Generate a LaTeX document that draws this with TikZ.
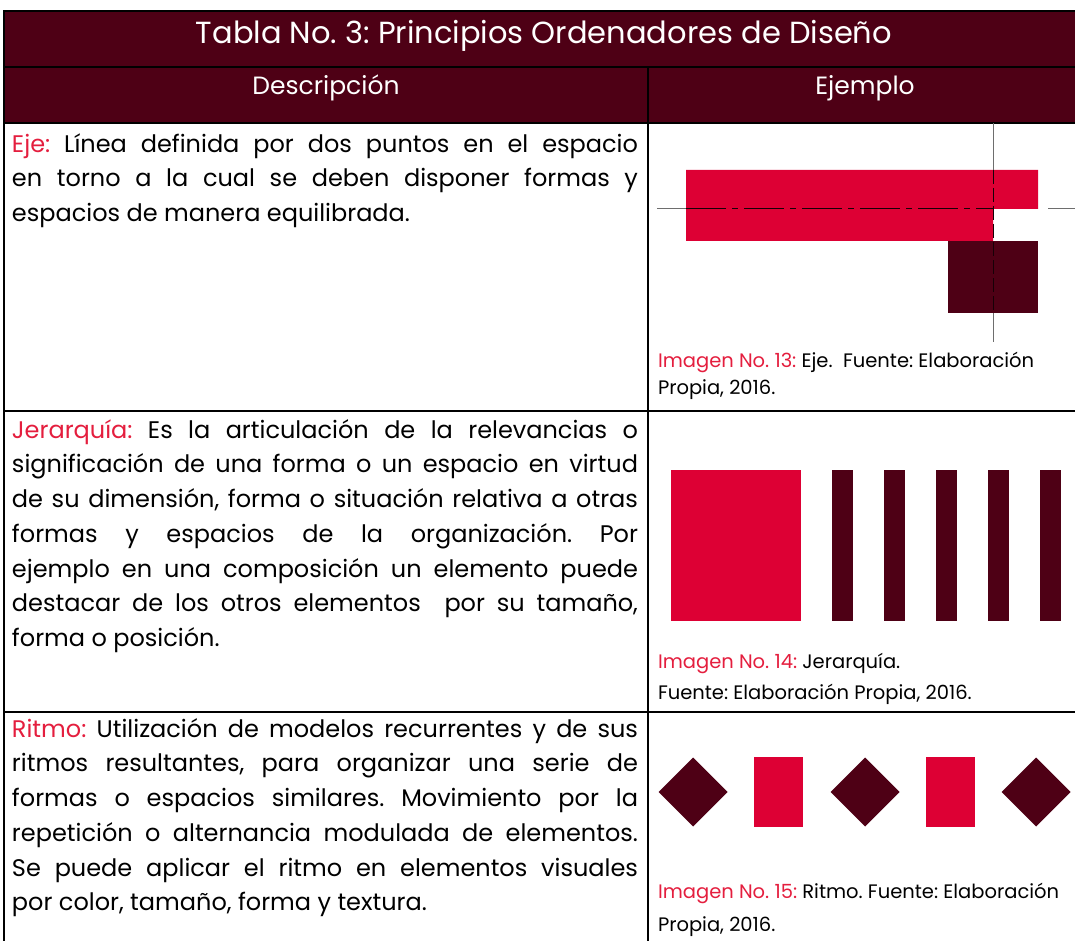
\documentclass[tikz,border=0pt]{standalone}
\usepackage{fontspec}
\setmainfont{Poppins}
\definecolor{vino}{RGB}{78,0,21}
\definecolor{rojo}{RGB}{221,0,52}
\definecolor{rojotexto}{RGB}{228,30,62}
\definecolor{gris}{RGB}{110,110,110}

\begin{document}
\frenchspacing
\begin{tikzpicture}[
	x=1pt,
	y=-1pt,
	every node/.style={inner sep=0pt, outer sep=0pt},
	borde/.style={draw=black, line width=2pt},
	titulo/.style={anchor=base, text=white, font=\fontsize{30.5}{36}\selectfont},
	encabezado/.style={anchor=base, text=white, font=\fontsize{25}{30}\selectfont},
	cuerpo/.style={
		anchor=north west,
		text width=626pt,
		align=justify,
		font=\fontsize{24}{34.7}\selectfont
	},
	pie/.style={anchor=base west, font=\fontsize{19.5}{24}\selectfont},
	forma roja/.style={fill=rojo},
	forma vino/.style={fill=vino},
	eje/.style={draw=gris, line width=1pt},
	eje oculto/.style={draw=black!70!vino, line width=1pt}
]

\useasboundingbox (0,0) rectangle (1075,941);

\fill[vino] (4,11) rectangle (1075,123);
\draw[borde] (1075,11) -- (4,11) -- (4,941);
\draw[borde] (4,67) -- (1075,67);
\draw[borde] (4,123) -- (1075,123);
\draw[borde] (4,411) -- (1075,411);
\draw[borde] (4,712) -- (1075,712);
\draw[borde] (648,67) -- (648,941);

\node[titulo] (titulo) at (544,44) {Tabla No. 3: Principios Ordenadores de Diseño};
\node[encabezado] (descripcion) at (326,95) {Descripción};
\node[encabezado] (ejemplo) at (865,95) {Ejemplo};

\node[cuerpo] (txteje) at (12,128) {\strut\textcolor{rojotexto}{Eje:} Línea definida por dos puntos en el espacio\linebreak
	en torno a la cual se deben disponer formas y\linebreak
	espacios de manera equilibrada.};
\node[cuerpo] (txtjerarquia) at (12,414) {\strut\textcolor{rojotexto}{Jerarquía:} Es la articulación de la relevancias o\linebreak
	significación de una forma o un espacio en virtud\linebreak
	de su dimensión, forma o situación relativa a otras\linebreak
	formas y espacios de la organización. Por\linebreak
	ejemplo en una composición un elemento puede\linebreak
	destacar de los otros elementos\ \ por su tamaño,\linebreak
	forma o posición.};
\node[cuerpo] (txtritmo) at (12,713) {\strut\textcolor{rojotexto}{Ritmo:} Utilización de modelos recurrentes y de sus\linebreak
	ritmos resultantes, para organizar una serie de\linebreak
	formas o espacios similares. Movimiento por la\linebreak
	repetición o alternancia modulada de elementos.\linebreak
	Se puede aplicar el ritmo en elementos visuales\linebreak
	por color, tamaño, forma y textura.};

\fill[forma roja] (686,170) -- (1038,170) -- (1038,209) -- (993,209) -- (993,241) -- (686,241) -- cycle;
\fill[forma vino] (948,241) rectangle (1038,313);
\draw[eje] (993,123) -- (993,170);
\draw[eje oculto, dash pattern=on 14pt off 4pt] (993,170) -- (993,313);
\draw[eje] (993,313) -- (993,342);
\draw[eje] (657,209) -- (686,209);
\draw[eje oculto, dash pattern=on 40pt off 6pt on 6pt off 6pt] (686,209) -- (993,209);
\draw[eje] (1048,209) -- (1075,209);
\node[pie] (pieeje) at (658,367) {\textcolor{rojotexto}{Imagen No. 13:} Eje.\ \ Fuente: Elaboración};
\node[pie] (pieeje2) at (658,394) {Propia, 2016.};

\fill[forma roja] (671,470) rectangle (801,621);
\foreach \x in {832,884,936,988,1040}
	\fill[forma vino] (\x,470) rectangle ++(21,151);
\node[pie] (piejerarquia) at (658,668) {\textcolor{rojotexto}{Imagen No. 14:} Jerarquía.};
\node[pie] (piejerarquia2) at (658,699) {Fuente: Elaboración Propia, 2016.};

\foreach \x in {693,865,1036}
	\fill[forma vino] (\x-34.5,792) -- (\x,757.5) -- (\x+34.5,792) -- (\x,826.5) -- cycle;
\foreach \x in {754,926}
	\fill[forma roja] (\x,757) rectangle ++(49,70);
\node[pie] (pieritmo) at (658,898) {\textcolor{rojotexto}{Imagen No. 15:} Ritmo. Fuente: Elaboración};
\node[pie] (pieritmo2) at (658,931) {Propia, 2016.};

\end{tikzpicture}
\end{document}
